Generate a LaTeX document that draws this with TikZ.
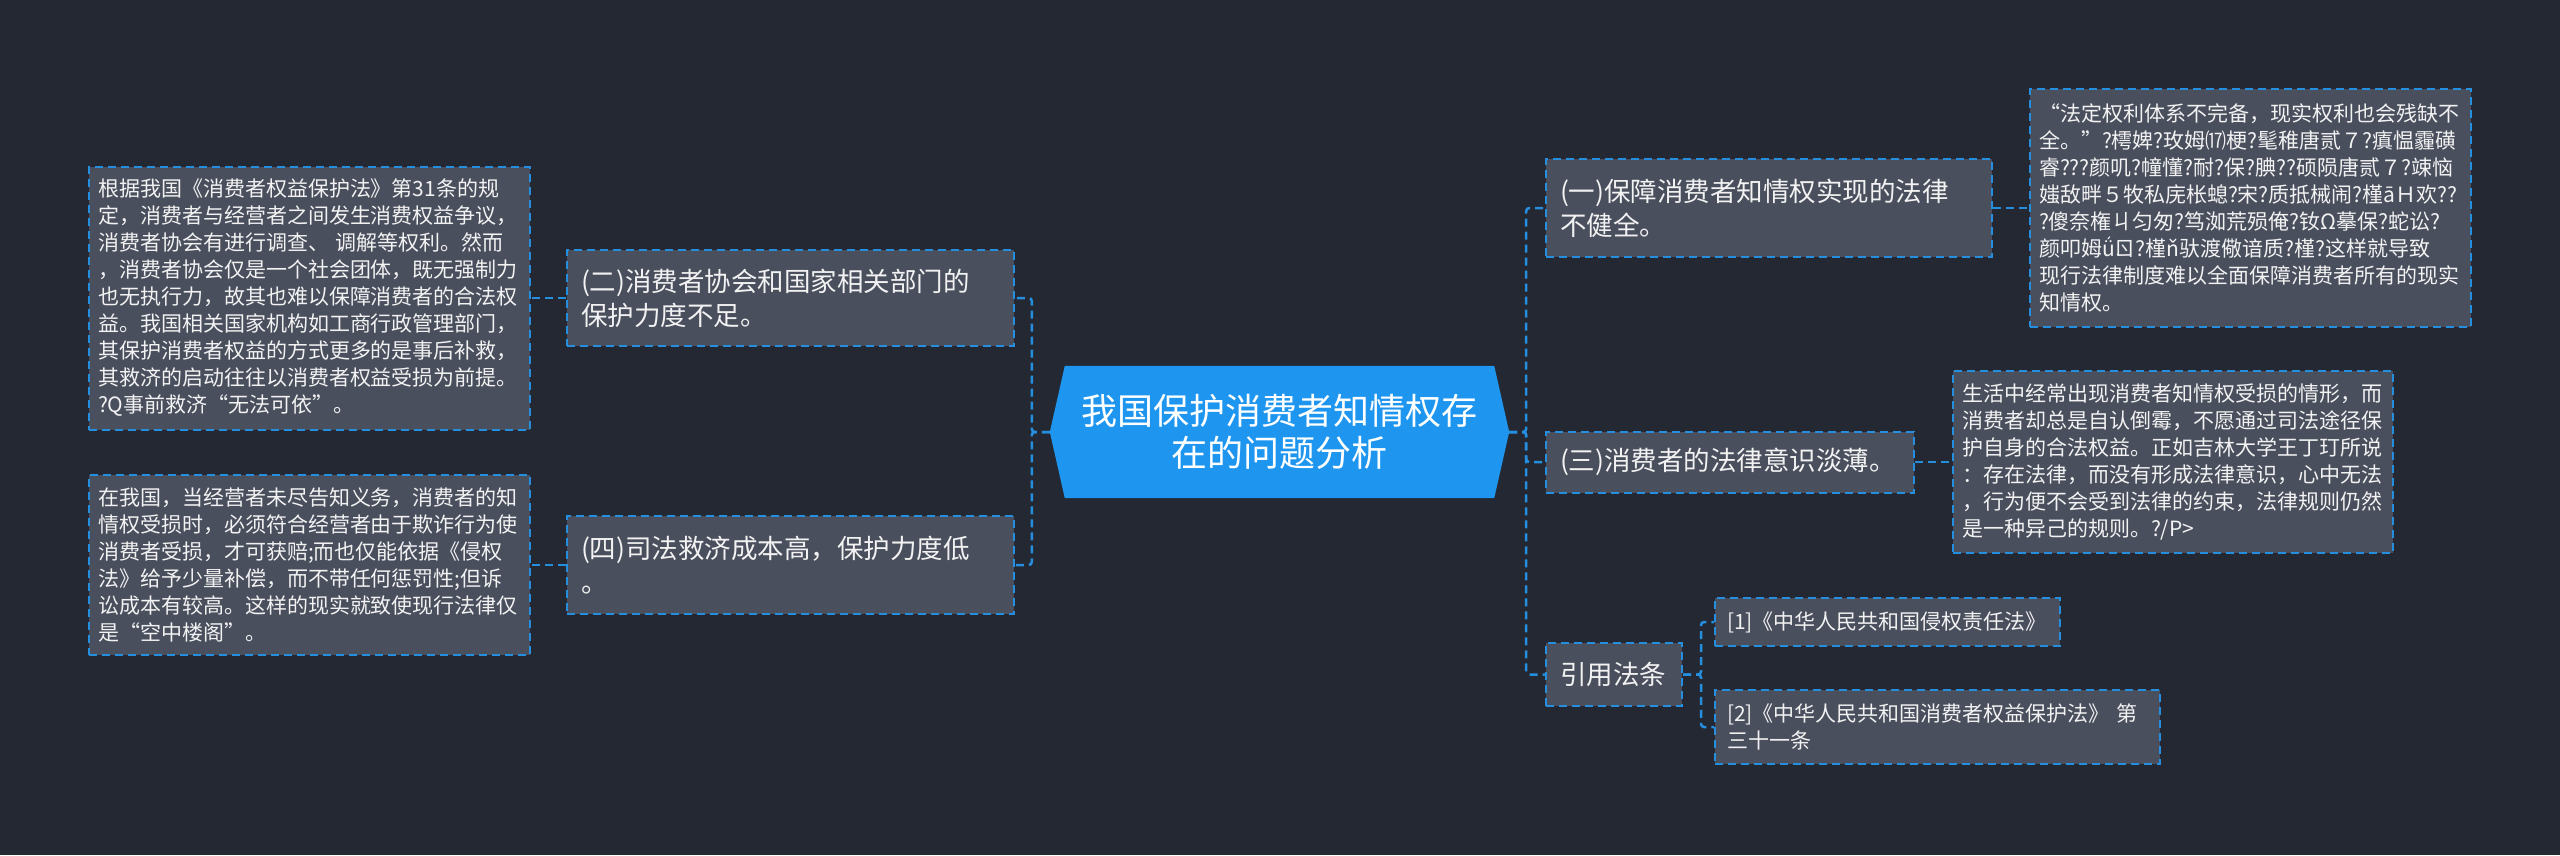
\documentclass[tikz,border=0pt]{standalone}
\usepackage{fontspec}
\setmainfont{Noto Sans CJK SC}
\usetikzlibrary{backgrounds}
\definecolor{bgc}{RGB}{36,40,51}
\definecolor{boxc}{RGB}{74,79,94}
\definecolor{linec}{RGB}{38,142,222}
\definecolor{rootc}{RGB}{30,150,240}
\definecolor{txtc}{RGB}{242,242,242}
\begin{document}
\begin{tikzpicture}[x=1pt,y=-1pt,
  box/.style={draw=linec, fill=boxc, line width=2pt, dash pattern=on 8pt off 5pt,
    text=txtc, align=left, inner ysep=3pt, anchor=center},
  lvone/.style={box, font=\fontsize{26.5}{34}\selectfont, inner xsep=14pt},
  lvtwo/.style={box, font=\fontsize{21}{27}\selectfont, inner xsep=9pt},
  rootnode/.style={text=white, align=center, font=\fontsize{36}{42}\selectfont,
    minimum width=459pt, minimum height=132pt, inner sep=0pt},
  conn/.style={draw=linec, line width=2.5pt, dash pattern=on 8pt off 5pt, rounded corners=3pt}]
\useasboundingbox (0,0) rectangle (2560,855);
\begin{scope}[on background layer]
\fill[bgc] (0,0) rectangle (2560,855);
\end{scope}

% root
\node[rootnode] (root) at (1279.5,432) {我国保护消费者知情权存\\在的问题分析};
\begin{scope}[on background layer]
\fill[rootc] ([xshift=15pt]root.north west) -- ([xshift=-15pt]root.north east) -- (root.east)
  -- ([xshift=-15pt]root.south east) -- ([xshift=15pt]root.south west) -- (root.west) -- cycle;
\end{scope}

% level one
\node[lvone, text width=419pt, minimum height=96pt] (n2) at (790.5,298) {(二)消费者协会和国家相关部门的\\保护力度不足。};
\node[lvone, text width=419pt, minimum height=98pt] (n4) at (790.5,565) {(四)司法救济成本高，保护力度低\\。};
\node[lvone, text width=418pt, minimum height=98pt] (n1) at (1769,208) {(一)保障消费者知情权实现的法律\\不健全。};
\node[lvone, text width=340pt, minimum height=61pt] (n3) at (1730,462) {(三)消费者的法律意识淡薄。};
\node[lvone, text width=108pt, minimum height=63pt] (ny) at (1614,674.5) {引用法条};

% level two
\node[lvtwo, text width=423pt, minimum height=263pt] (L1) at (309.5,298) {根据我国《消费者权益保护法》第31条的规\\定，消费者与经营者之间发生消费权益争议，\\消费者协会有进行调查、 调解等权利。然而\\，消费者协会仅是一个社会团体，既无强制力\\也无执行力，故其也难以保障消费者的合法权\\益。我国相关国家机构如工商行政管理部门，\\其保护消费者权益的方式更多的是事后补救，\\其救济的启动往往以消费者权益受损为前提。\\?Q事前救济“无法可依”。};
\node[lvtwo, text width=423pt, minimum height=180pt] (L2) at (309.5,565) {在我国，当经营者未尽告知义务，消费者的知\\情权受损时，必须符合经营者由于欺诈行为使\\消费者受损，才可获赔;而也仅能依据《侵权\\法》给予少量补偿，而不带任何惩罚性;但诉\\讼成本有较高。这样的现实就致使现行法律仅\\是“空中楼阁”。};
\node[lvtwo, text width=423pt, minimum height=238pt] (R1) at (2250.5,208) {“法定权利体系不完备，现实权利也会残缺不\\全。”?樗婢?玫姆⒄梗?髦稚唐贰７?瘨愠霾磺\\睿???颜叽?幢懂?耐?保?腆??硕陨唐贰７?竦恼\\媸敌畔５牧私庑枨螅?宋?质抵械闹?槿āＨ欢??\\?傻奈権ㄐ匀匆?笃洳荒殒俺?钕Ω摹保?蛇讼?\\颜叩姆ǘㄖ?槿ň驮渡儆谙质?槿?这样就导致\\现行法律制度难以全面保障消费者所有的现实\\知情权。};
\node[lvtwo, text width=422pt, minimum height=182pt] (R2) at (2173,462) {生活中经常出现消费者知情权受损的情形，而\\消费者却总是自认倒霉，不愿通过司法途径保\\护自身的合法权益。正如吉林大学王丁玎所说\\：存在法律，而没有形成法律意识，心中无法\\，行为便不会受到法律的约束，法律规则仍然\\是一种异己的规则。?/P>};
\node[lvtwo, inner xsep=12pt, text width=321pt, minimum height=48pt] (C1) at (1887.5,622) {[1]《中华人民共和国侵权责任法》};
\node[lvtwo, inner xsep=12pt, text width=421pt, minimum height=74pt] (C2) at (1937.5,727) {[2]《中华人民共和国消费者权益保护法》 第\\三十一条};

% connectors
\draw[conn] (root.east) -- ++(17,0) |- (n1.west);
\draw[conn] (root.east) -- ++(17,0) |- (n3.west);
\draw[conn] (root.east) -- ++(17,0) |- (ny.west);
\draw[conn] (root.west) -- ++(-18,0) |- (n2.east);
\draw[conn] (root.west) -- ++(-18,0) |- (n4.east);
\draw[conn] (n2.west) -- (L1.east);
\draw[conn] (n4.west) -- (L2.east);
\draw[conn] (n1.east) -- (R1.west);
\draw[conn] (n3.east) -- (R2.west);
\draw[conn] (ny.east) -- ++(18,0) |- (C1.west);
\draw[conn] (ny.east) -- ++(18,0) |- (C2.west);
\end{tikzpicture}
\end{document}
